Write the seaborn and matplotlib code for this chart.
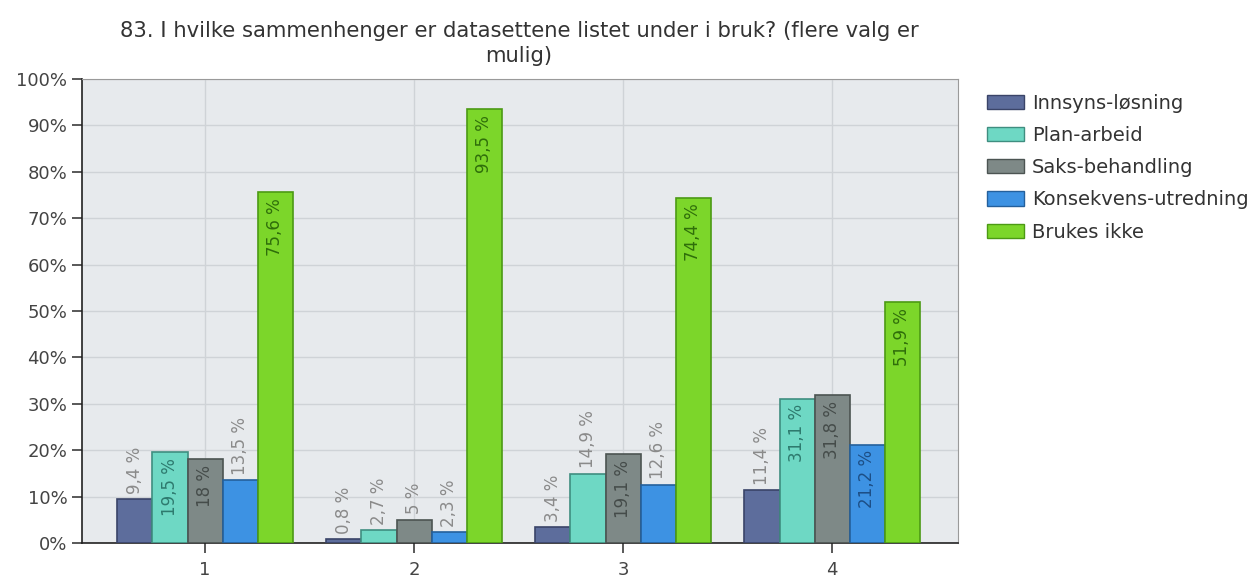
import pandas as pd
import matplotlib.pyplot as plt
import seaborn as sns
from matplotlib.patches import Patch

# Data
grupper = ['1', '2', '3', '4']
serier = ['Innsyns-løsning', 'Plan-arbeid', 'Saks-behandling', 'Konsekvens-utredning', 'Brukes ikke']
innsyn = [9.4, 0.8, 3.4, 11.4]
plan = [19.5, 2.7, 14.9, 31.1]
saks = [18.0, 5.0, 19.1, 31.8]
konsekvens = [13.5, 2.3, 12.6, 21.2]
brukes_ikke = [75.6, 93.5, 74.4, 51.9]

farger = ['#5d6d9c', '#6ed8c4', '#7e8987', '#3d92e3', '#7cd62a']
kant = ['#3a4468', '#3f8e80', '#4c5452', '#24609c', '#4c9a14']
tekstfarge = ['#555555', '#2e7a6e', '#454c4a', '#1d4f86', '#2f6e0a']

sns.set_theme(style="white")
plt.rcParams['font.family'] = ['DejaVu Sans']

rows = []
for s, vals in zip(serier, [innsyn, plan, saks, konsekvens, brukes_ikke]):
    for g, v in zip(grupper, vals):
        rows.append({'gruppe': g, 'serie': s, 'verdi': v})
df = pd.DataFrame(rows)

fig = plt.figure(figsize=(12.51, 5.77), dpi=100)
ax = fig.add_axes([0.0655, 0.059, 0.7005, 0.804])
ax.set_facecolor('#e7eaed')

sns.barplot(data=df, x='gruppe', y='verdi', hue='serie', order=grupper,
            hue_order=serier, palette=farger, width=0.84, ax=ax,
            linewidth=1.2, legend=False, saturation=1, zorder=3)

# edge colours and value labels
for i, cont in enumerate(ax.containers):
    for bar, v in zip(cont, [innsyn, plan, saks, konsekvens, brukes_ikke][i]):
        bar.set_edgecolor(kant[i])
        cx = bar.get_x() + bar.get_width() / 2
        txt = f"{v:g}".replace('.', ',') + ' %'
        if v >= 17:
            ax.text(cx, v - 1.2, txt, rotation=90, ha='center', va='top',
                    fontsize=12, color=tekstfarge[i], zorder=4)
        else:
            ax.text(cx, v + 1.2, txt, rotation=90, ha='center', va='bottom',
                    fontsize=12, color='#8a8a8a', zorder=4)

ax.set_ylim(0, 100)
ax.set_xlim(-0.589, 3.603)
ax.set_yticks(range(0, 101, 10))
ax.set_yticklabels([f"{t}%" for t in range(0, 101, 10)])
ax.tick_params(axis='both', labelsize=13, colors='#444444', length=7,
               direction='out', bottom=True, left=True)
ax.tick_params(axis='x', pad=6)
ax.grid(True, axis='both', color='#cfd3d7', linewidth=1, zorder=0)
ax.set_axisbelow(True)
ax.set_xlabel('')
ax.set_ylabel('')
for side in ['top', 'right']:
    ax.spines[side].set_color('#9a9a9a')
    ax.spines[side].set_linewidth(0.8)
for side in ['left', 'bottom']:
    ax.spines[side].set_color('#222222')
    ax.spines[side].set_linewidth(1.2)

fig.text(0.415, 0.925, '83. I hvilke sammenhenger er datasettene listet under i bruk? (flere valg er\nmulig)',
         fontsize=15.2, color='#333333', ha='center', va='center', linespacing=1.3)

handles = [Patch(facecolor=f, edgecolor=k, label=s) for f, k, s in zip(farger, kant, serier)]
fig.legend(handles=handles, loc='upper left', bbox_to_anchor=(0.775, 0.868),
           frameon=False, fontsize=14, handlelength=1.9, handleheight=0.75,
           labelspacing=0.68, handletextpad=0.4, labelcolor='#333333')

fig.savefig('out.png', dpi=100)
